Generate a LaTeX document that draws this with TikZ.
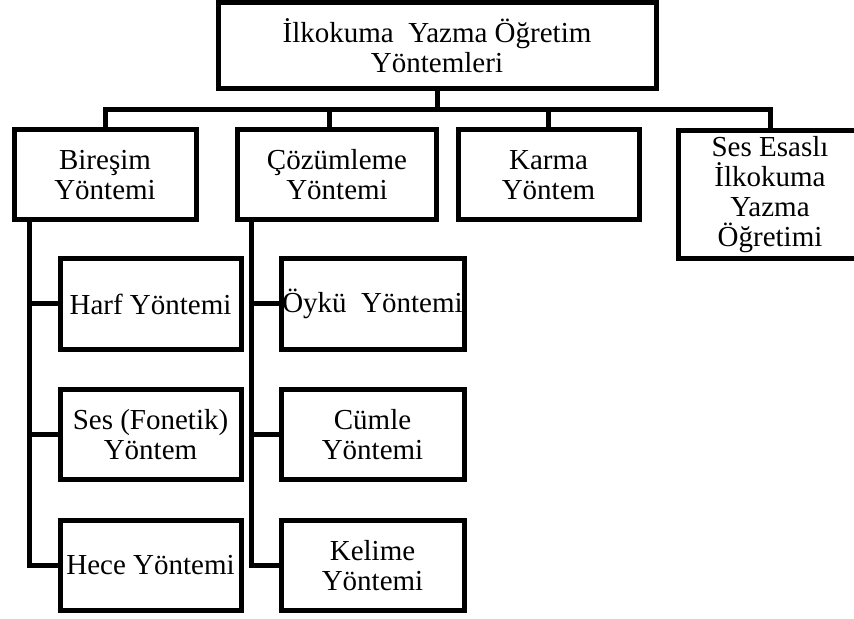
\documentclass[tikz,border=0pt]{standalone}
\usepackage{fontspec}
\setmainfont{Liberation Serif}
\usepackage{tikz}

\begin{document}
\begin{tikzpicture}[x=0.5pt,y=-0.5pt,line width=2.5pt]

\tikzstyle{every node}=[font=\fontsize{14.5pt}{15pt}\selectfont]
\tikzstyle{kutu}=[draw, line width=2.5pt, align=center, inner sep=0pt, minimum height=45pt]

\clip (0,0) rectangle (854,619);

\node[kutu, minimum width=219pt, minimum height=43pt] (ana) at (437,46) 
	{İlkokuma\ \ Yazma Öğretim\\Yöntemleri};

\node[kutu, minimum width=91pt] (bires) at (105,175) {Bireşim\\Yöntemi};
\node[kutu, minimum width=99.5pt] (cozum) at (337,175) {Çözümleme\\Yöntemi};
\node[kutu, minimum width=90.5pt] (karma) at (548.5,175) {Karma\\Yöntem};
\node[kutu, minimum width=92pt, minimum height=64pt] (sesesasli) at (770,195) 
	{Ses Esaslı\\İlkokuma\\Yazma\\Öğretimi};

\node[kutu, minimum width=90.5pt] (harf) at (150.5,304) {Harf Yöntemi};
\node[kutu, minimum width=90.5pt] (ses) at (150.5,434.5) {Ses (Fonetik)\\Yöntem};
\node[kutu, minimum width=90.5pt] (hece) at (150.5,565.5) {Hece Yöntemi};
\node[kutu, minimum width=91.5pt] (oyku) at (372.5,304) {Öykü\ \ Yöntemi};
\node[kutu, minimum width=91.5pt] (cumle) at (372.5,434.5) {Cümle\\Yöntemi};
\node[kutu, minimum width=91.5pt] (kelime) at (372.5,565.5) {Kelime\\Yöntemi};

% ana kutudan alt kutulara
\coordinate (bus) at (0,110);
\coordinate (d2) at ([xshift=-4pt]cozum.north);
\draw (ana.south) -- (ana.south |- bus);
\draw (bires.north) |- (bus -| sesesasli.north) -- (sesesasli.north);
\draw (d2) -- (d2 |- bus);
\draw (karma.north) -- (karma.north |- bus);

% yontem kollari
\coordinate (s1) at ([xshift=9pt]bires.south west);
\coordinate (s2) at ([xshift=8pt]cozum.south west);
\draw (s1) |- (hece.west);
\draw (s1 |- harf.west) -- (harf.west);
\draw (s1 |- ses.west) -- (ses.west);
\draw (s2) |- (kelime.west);
\draw (s2 |- oyku.west) -- (oyku.west);
\draw (s2 |- cumle.west) -- (cumle.west);
%\draw (s1) -- (s2);
\end{tikzpicture}
\end{document}
